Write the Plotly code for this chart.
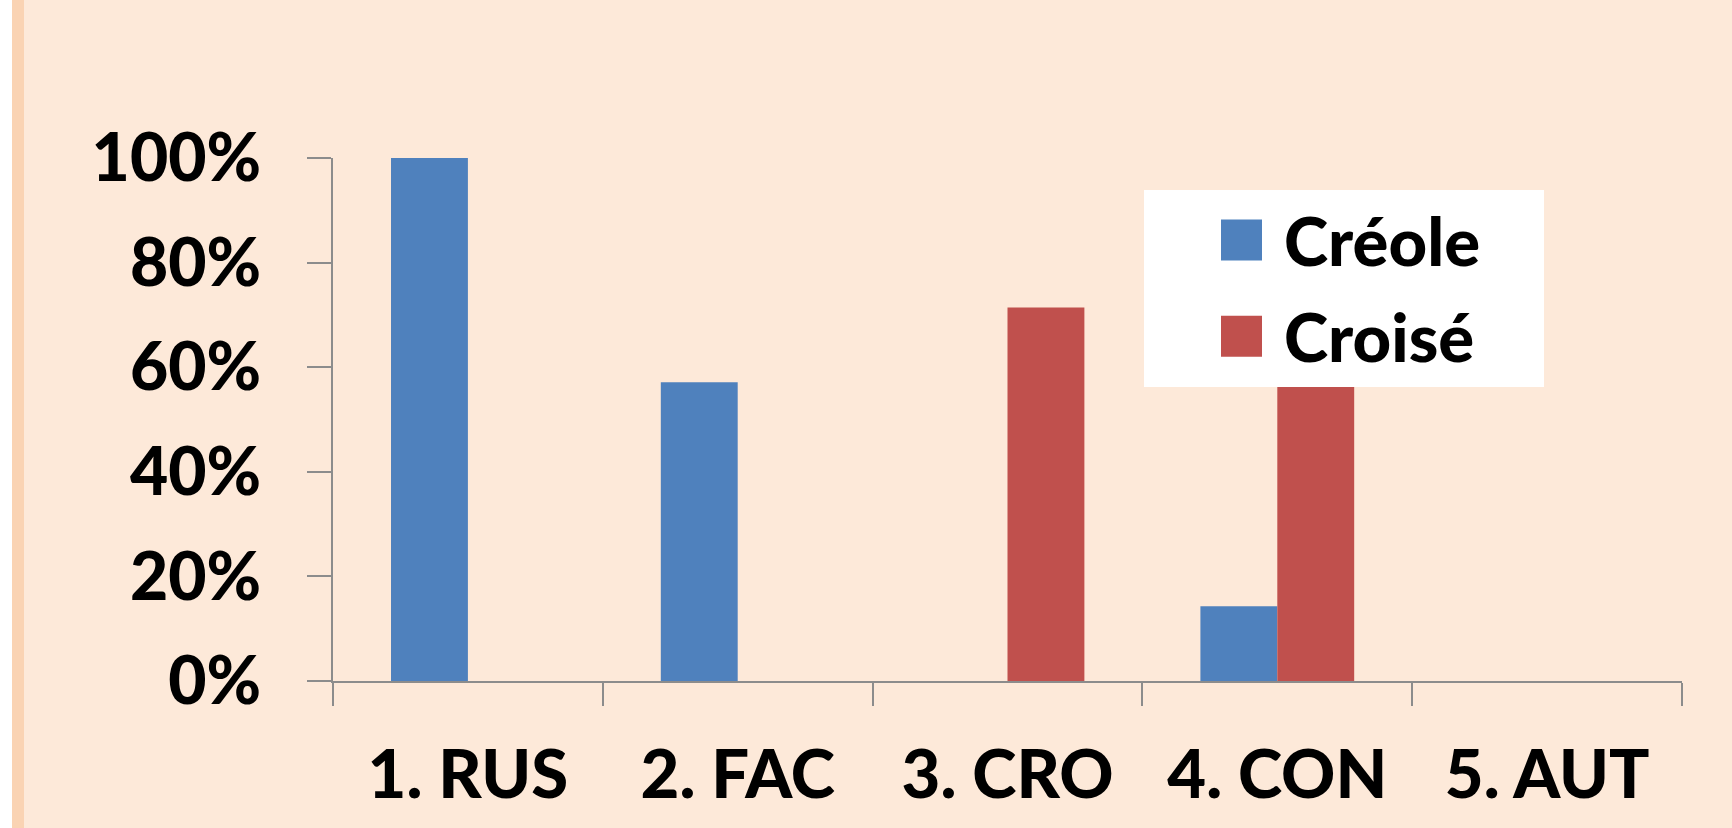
import plotly.graph_objects as go

categories = ["1. RUS", "2. FAC", "3. CRO", "4. CON", "5. AUT"]
creole = [1.0, 0.571, 0.0, 0.143, 0.0]
croise = [0.0, 0.0, 0.714, 0.857, 0.0]
series_names = ["Créole", "Croisé"]
colors = ["#4F81BD", "#C0504D"]
y_ticks = [0, 0.2, 0.4, 0.6, 0.8, 1.0]

W, H = 1732, 828
ML, MR, MT, MB = 333, 50, 158, 147
PW = W - ML - MR
PH = H - MT - MB
BG = "#FDE9D9"
AX = "#8C8C8C"
FONT = dict(family="Lato", size=67, color="black", weight=900)

fig = go.Figure()
for i, (name, vals) in enumerate(zip(series_names, [creole, croise])):
    fig.add_trace(go.Bar(x=categories, y=vals, name=name, marker_color=colors[i],
                         marker_line_width=0, legendgroup=name))

fig.update_layout(
    width=W, height=H,
    margin=dict(l=ML, r=MR, t=MT, b=MB, pad=0),
    paper_bgcolor=BG, plot_bgcolor=BG,
    font=FONT,
    barmode="group", bargap=0.43, bargroupgap=0,
    showlegend=True,
    legend=dict(x=(1144 - ML) / PW, y=(681 - 190) / PH, xanchor="left", yanchor="top",
                bgcolor="white", borderwidth=0, font=FONT, itemwidth=130,
                tracegroupgap=6, traceorder="grouped"),
    xaxis=dict(showline=True, linecolor=AX, linewidth=1.5, ticks="outside", ticklen=23,
               tickcolor=AX, tickwidth=1.5, tickson="boundaries", showgrid=False,
               tickfont=FONT, ticklabelstandoff=35, range=[-0.5, 4.5]),
    yaxis=dict(showline=True, linecolor=AX, linewidth=1.5, ticks="outside", ticklen=24,
               tickcolor=AX, tickwidth=1.5, showgrid=False, zeroline=False,
               tickvals=y_ticks, tickformat=".0%", range=[0, 1],
               tickfont=dict(FONT, size=66), ticklabelstandoff=33),
    shapes=[
        dict(type="rect", xref="paper", yref="paper", x0=-ML / PW, x1=(12 - ML) / PW,
             y0=-MB / PH, y1=1 + MT / PH, fillcolor="white", line_width=0, layer="below"),
        dict(type="rect", xref="paper", yref="paper", x0=(12 - ML) / PW, x1=(24 - ML) / PW,
             y0=-MB / PH, y1=1 + MT / PH, fillcolor="#FAD3B3", line_width=0, layer="below"),
    ],
)

post = """
document.body.style.margin = '0';
document.body.style.padding = '0';
var gd = document.getElementById('{plot_id}');
var S = 41/12, DX = 27.5;
gd.querySelectorAll('g.legend g.legendpoints path').forEach(function(p){
  var t = p.getAttribute('transform') || '';
  p.setAttribute('transform', t + ' translate(' + DX + ',0) scale(' + S + ')');
});
var bg = gd.querySelector('g.legend rect.bg');
if (bg) { bg.setAttribute('width', 400); }
"""

fig.write_html("out.html", post_script=post, config={"displayModeBar": False})
